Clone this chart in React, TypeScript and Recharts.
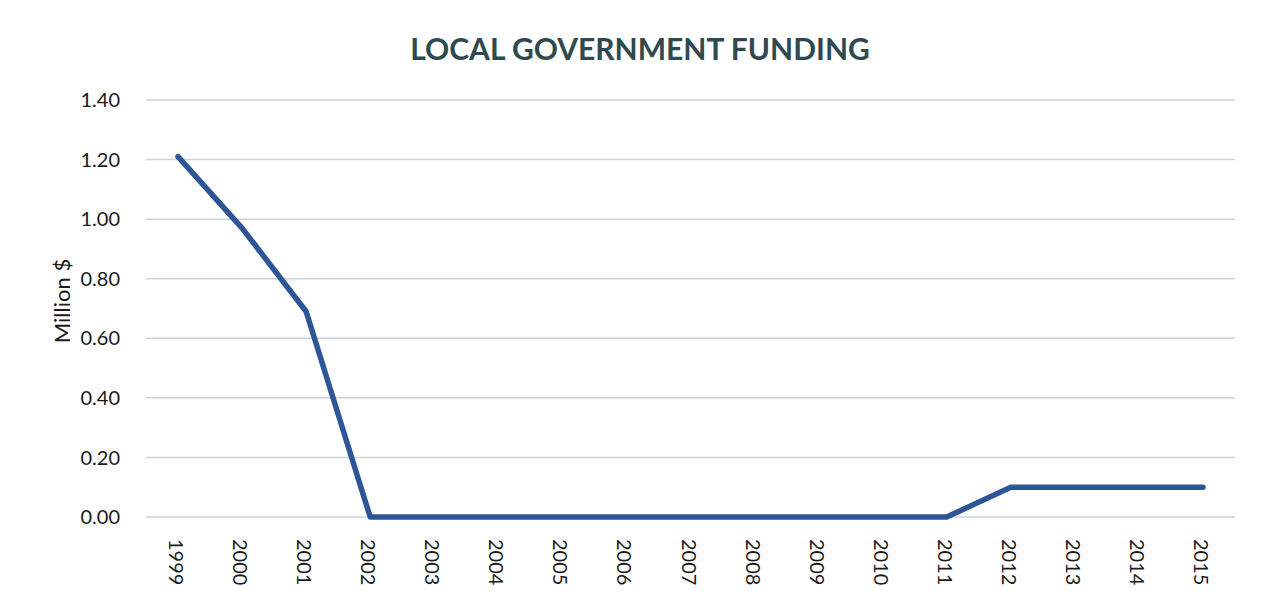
import React from 'react';
import { LineChart, Line, XAxis, YAxis, CartesianGrid } from 'recharts';

const years = ['1999','2000','2001','2002','2003','2004','2005','2006','2007','2008','2009','2010','2011','2012','2013','2014','2015'];
const funding = [1.21, 0.97, 0.69, 0, 0, 0, 0, 0, 0, 0, 0, 0, 0, 0.1, 0.1, 0.1, 0.1];
const yTicks = [0, 0.2, 0.4, 0.6, 0.8, 1.0, 1.2, 1.4];

const data = years.map((y, i) => ({ year: y, value: funding[i] }));

const FONT = 'Lato, "Open Sans", sans-serif';

const XTick = (props: any) => {
  const { x, y, payload } = props;
  return (
    <text
      x={0}
      y={0}
      transform={`translate(${x - 1},${y + 14}) rotate(90)`}
      textAnchor="start"
      dominantBaseline="central"
      fontFamily={FONT}
      fontSize={20}
      fill="#1a1a1a"
    >
      {payload.value}
    </text>
  );
};

export default function App() {
  return (
    <div style={{ position: 'absolute', left: 0, top: 0, width: 1261, height: 591, background: '#ffffff' }}>
      <div
        style={{
          position: 'absolute',
          left: 0,
          width: 1280,
          top: 29,
          textAlign: 'center',
          fontFamily: FONT,
          fontWeight: 700,
          fontSize: 30,
          color: '#2f4a4f',
          lineHeight: '38px',
        }}
      >
        LOCAL GOVERNMENT FUNDING
      </div>
      <div
        style={{
          position: 'absolute',
          left: 61,
          top: 301,
          transform: 'translate(-50%, -50%) rotate(-90deg)',
          fontFamily: FONT,
          fontSize: 22,
          color: '#1a1a1a',
          whiteSpace: 'nowrap',
        }}
      >
        Million $
      </div>
      <LineChart
        width={1261}
        height={591}
        data={data}
        margin={{ top: 100, right: 26, bottom: 14, left: 60 }}
        style={{ position: 'absolute', left: 0, top: 0 }}
      >
        <CartesianGrid vertical={false} stroke="#c9d3dc" strokeWidth={1.5} />
        <XAxis
          dataKey="year"
          axisLine={false}
          tickLine={false}
          height={60}
          interval={0}
          padding={{ left: 32, right: 32 }}
          tick={<XTick />}
        />
        <YAxis
          domain={[0, 1.4]}
          ticks={yTicks}
          width={86}
          axisLine={false}
          tickLine={false}
          tickSize={0}
          tickMargin={26}
          tickFormatter={(v: number) => v.toFixed(2)}
          tick={{ fontFamily: FONT, fontSize: 20, fill: '#1a1a1a' }}
        />
        <Line
          type="linear"
          dataKey="value"
          stroke="#2e5597"
          strokeWidth={5.5}
          strokeLinecap="round"
          strokeLinejoin="round"
          dot={false}
          isAnimationActive={false}
        />
      </LineChart>
    </div>
  );
}
